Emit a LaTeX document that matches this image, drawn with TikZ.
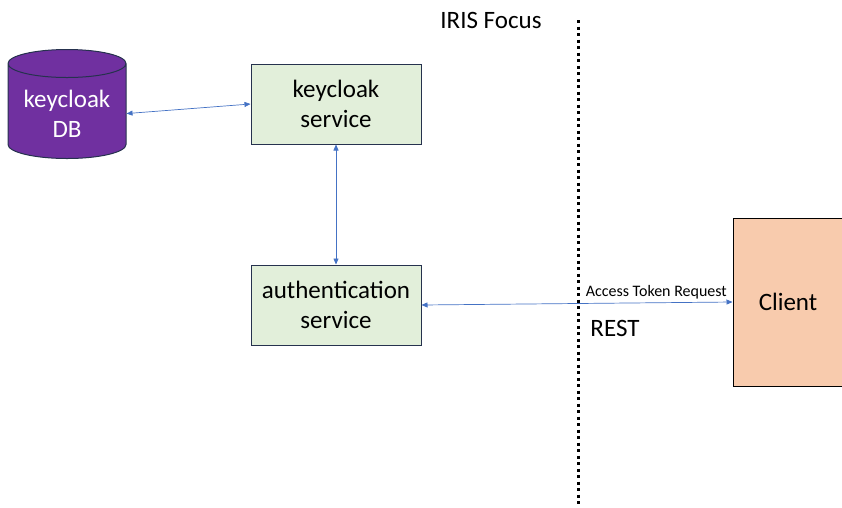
\documentclass[tikz,border=0pt]{standalone}
\usepackage{fontspec}
\setmainfont{Carlito}
\usepackage{tikz}
\usetikzlibrary{shapes.geometric, arrows.meta, positioning}
\definecolor{dbpurple}{RGB}{112,48,160}
\definecolor{svcgreen}{RGB}{226,239,218}
\definecolor{clientorange}{RGB}{248,203,173}
\definecolor{edgenavy}{RGB}{38,50,78}
\definecolor{linkblue}{RGB}{68,114,196}

\begin{document}
\begin{tikzpicture}[x=1pt, y=-1pt,
    every node/.style={font=\fontsize{25}{30}\selectfont},
    svc/.style={rectangle, draw=edgenavy, fill=#1, line width=1pt, minimum width=170pt, minimum height=80pt, align=center},
    link/.style={{Triangle[length=6pt,width=5pt]}-{Triangle[length=6pt,width=5pt]}, linkblue, line width=0.7pt}
]
\useasboundingbox (0,0) rectangle (842,507);

\node[cylinder, shape border rotate=90, draw=edgenavy, fill=dbpurple, line width=1pt, text=white, aspect=0.3, minimum width=118pt, minimum height=109pt, align=center, anchor=shape center] (db) at (67,104) {keycloak\\DB};

\node[svc=svcgreen] (kc) at (336,104) {keycloak\\service};
\node[svc=svcgreen, below=120pt of kc] (auth) {authentication\\service};
\node[svc=clientorange, draw=black, minimum width=110pt, minimum height=168pt] (client) at (788,302) {Client};

\node (focus) at (491,20) {IRIS Focus};
\node (rest) at (615,328) {REST};

% divider
\coordinate (divtop) at (578,20);
\coordinate (divbot) at (578,507);
\draw[line width=3pt, dash pattern=on 3pt off 3.5pt] (divtop) -- (divbot);

\draw[link] (db.east) -- (kc.west);
\draw[link] (kc.south) -- (auth.north);
\draw[link] (auth.east) -- node[above, pos=0.755, text=black, font=\fontsize{16}{19}\selectfont] {Access Token Request} (client.west);

\end{tikzpicture}
\end{document}
